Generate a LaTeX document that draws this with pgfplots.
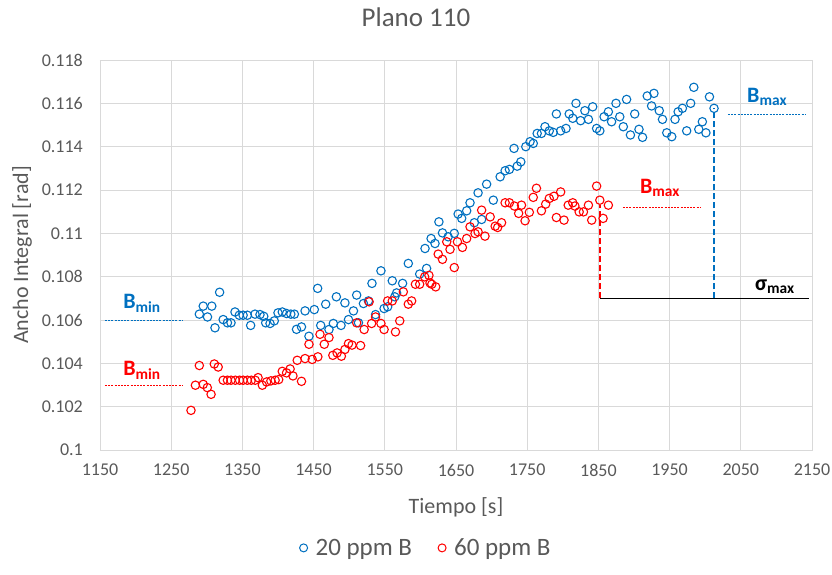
\documentclass[border=0pt]{standalone}
\usepackage{pgfplots}
\pgfplotsset{compat=1.18}
\usetikzlibrary{calc}
\usepackage{fontspec}
\setmainfont{Carlito}
\definecolor{xblue}{HTML}{0070C0}
\definecolor{xred}{HTML}{FF0000}
\definecolor{txt}{HTML}{595959}
\definecolor{grd}{HTML}{D9D9D9}
\begin{document}
\begin{tikzpicture}
\begin{axis}[
  scale only axis, width=712pt, height=390pt,
  xmin=1150, xmax=2150, ymin=0.1, ymax=0.118,
  xtick={1150,1250,...,2150},
  ytick={0.1,0.102,...,0.1181},
  grid=major, major grid style={grd, line width=0.8pt},
  axis line style={grd, line width=0.8pt},
  major tick length=0pt,
  /pgf/number format/assume math mode=true,
  x tick label style={/pgf/number format/set thousands separator={}, font=\fontsize{18}{20}\selectfont, text=txt, anchor=center, yshift=-20pt},
  y tick label style={/pgf/number format/fixed, /pgf/number format/precision=3, font=\fontsize{18}{20}\selectfont, text=txt, anchor=east, inner sep=0pt, xshift=-17pt},
  title={Plano 110}, title style={at={(axis description cs:0.4438,1.095)}, anchor=center, font=\fontsize{27}{29}\selectfont, text=txt},
  xlabel={Tiempo [s]}, xlabel style={at={(axis description cs:0.5,-0.146)}, anchor=center, font=\fontsize{22}{24}\selectfont, text=txt},
  ylabel={Ancho Integral [rad]}, ylabel style={at={(axis description cs:-0.1096,0.5)}, anchor=center, rotate=0, font=\fontsize{22}{24}\selectfont, text=txt},
  legend style={at={(axis description cs:0.458,-0.251)}, anchor=center, draw=none, legend columns=2, font=\fontsize{25}{27}\selectfont, text=txt, /tikz/every even column/.append style={column sep=24pt}},
  legend cell align=left,
]
\addplot[only marks, mark=o, mark size=4.2pt, xblue, mark options={line width=1.1pt}, legend image post style={mark size=4pt, mark options={line width=1pt}}] coordinates {
(1289.5,0.10627)(1295,0.10664)(1301,0.10614)(1307,0.10664)(1311.5,0.10564)(1318,0.10728)
(1323,0.10602)(1329,0.10587)(1334,0.10587)(1339.6,0.10637)(1345.6,0.10622)(1351,0.10622)
(1357,0.10622)(1361.6,0.10575)(1367.7,0.10627)(1374.7,0.10625)(1380,0.10617)(1382.7,0.10587)
(1388.8,0.10584)(1394.8,0.10596)(1400,0.10633)(1406,0.10637)(1412,0.1063)(1418,0.10627)
(1423,0.10627)(1426,0.10557)(1433,0.10568)(1438,0.10642)(1443.5,0.10525)(1451,0.10648)
(1455.7,0.10746)(1460,0.10575)(1467,0.10673)(1471.6,0.10556)(1477.7,0.10584)(1482,0.10707)
(1488.5,0.10575)(1494,0.10679)(1499,0.10602)(1506,0.10642)(1510.5,0.10715)(1513,0.10587)
(1520,0.10676)(1527,0.10688)(1532,0.10769)(1537,0.10625)(1544.6,0.10827)(1549,0.10653)
(1554,0.10661)(1560.5,0.10781)(1564,0.10707)(1566.6,0.10725)(1575,0.10769)(1583,0.10861)
(1599,0.10812)(1606.5,0.1093)(1608.7,0.10838)(1615,0.10976)(1620.5,0.10953)(1626,0.11053)
(1631,0.11002)(1639,0.10984)(1647.6,0.1100)(1653,0.11089)(1658,0.11069)(1665,0.11104)
(1669.7,0.11141)(1675.7,0.11049)(1681,0.11187)(1686,0.11064)(1693,0.11227)(1702.4,0.11153)
(1712,0.11261)(1719,0.11289)(1725,0.11295)(1731.5,0.11392)(1736,0.11310)(1741,0.1133)
(1748,0.1140)(1754,0.11423)(1758.5,0.11415)(1764,0.11461)(1770,0.11461)(1775,0.11492)
(1781,0.11473)(1786.5,0.11466)(1791,0.11551)(1797,0.11473)(1804.5,0.11484)(1809,0.11551)
(1814,0.11531)(1818.5,0.116)(1825,0.1152)(1831,0.11566)(1836,0.11526)(1842,0.11584)
(1847.5,0.11484)(1852,0.11473)(1858,0.11538)(1864,0.11561)(1868.5,0.11515)(1874.7,0.116)
(1880,0.11538)(1885,0.11492)(1889.6,0.11618)(1895,0.11454)(1901,0.11551)(1907,0.1148)
(1912,0.11443)(1918.6,0.11634)(1924.7,0.11588)(1928,0.11646)(1935.5,0.11566)(1940,0.11526)
(1946,0.11464)(1953,0.11446)(1957.6,0.11526)(1962,0.11561)(1968,0.11577)(1974,0.11473)
(1979.6,0.116)(1984,0.11674)(1991,0.1148)(1996,0.11515)(2001,0.11464)(2006,0.1163)
(2012.4,0.11577)
};
\addlegendentry{\hspace{6pt}20 ppm B}
\addplot[only marks, mark=o, mark size=4.2pt, xred, mark options={line width=1.1pt}, legend image post style={mark size=4pt, mark options={line width=1pt}}] coordinates {
(1277.8,0.10183)(1284,0.10299)(1289.5,0.10390)(1295,0.10303)(1300.7,0.10288)(1306,0.10257)
(1310.5,0.10397)(1316,0.10383)(1323,0.10322)(1329,0.10322)(1334,0.10322)(1340,0.10322)
(1346,0.10322)(1351,0.10322)(1357,0.10322)(1362.5,0.10322)(1368,0.10322)(1372,0.10334)
(1378,0.10299)(1384,0.10314)(1390,0.10319)(1396,0.10322)(1401,0.10325)(1406,0.10363)
(1412,0.10356)(1417,0.10374)(1421,0.10342)(1427,0.10414)(1433,0.10317)(1438,0.10422)
(1443.5,0.10488)(1448,0.10418)(1456,0.1043)(1459,0.10534)(1465,0.10488)(1471.6,0.10519)
(1477,0.10437)(1483,0.10448)(1489,0.10433)(1494,0.10464)(1499,0.10491)(1504,0.10484)
(1510.5,0.10587)(1516,0.10482)(1521,0.10556)(1528,0.10684)(1531.5,0.10584)(1537,0.10614)
(1544.6,0.10584)(1549,0.10556)(1554,0.10688)(1560.5,0.10688)(1565,0.10545)(1571,0.10596)
(1576,0.1073)(1583,0.10673)(1587.7,0.10688)(1593,0.10765)(1599,0.10765)(1606,0.10799)
(1612,0.10806)(1613.5,0.10771)(1616,0.10765)(1621.5,0.10753)(1625,0.10904)(1631,0.1088)
(1637,0.10961)(1641.6,0.10926)(1647.6,0.10842)(1652,0.10961)(1659,0.10935)(1665,0.10976)
(1669.7,0.1103)(1676.7,0.10999)(1681,0.11007)(1686,0.11107)(1690.7,0.10987)(1698,0.11076)
(1705,0.11033)(1708.5,0.11027)(1714,0.11049)(1719,0.11141)(1725,0.11141)(1732,0.11126)
(1738,0.11092)(1742,0.1113)(1747,0.11058)(1753,0.11097)(1758.5,0.11166)(1763,0.11208)
(1770,0.11104)(1776,0.11135)(1781,0.11161)(1787.6,0.11171)(1791,0.11073)(1797,0.11191)
(1801.7,0.11061)(1807.6,0.1113)(1814,0.11141)(1817,0.11126)(1823,0.11099)(1829,0.11099)
(1836,0.1113)(1840.6,0.11061)(1847.5,0.11218)(1852,0.11153)(1856.6,0.11069)(1864,0.1113)
};
\addlegendentry{\hspace{6pt}60 ppm B}
% annotation lines
\addplot[xblue, line width=0.8pt, dash pattern=on 2pt off 1.2pt, forget plot] coordinates {(1157,0.106)(1265,0.106)};
\addplot[xred, line width=0.8pt, dash pattern=on 2pt off 1.2pt, forget plot] coordinates {(1157,0.103)(1265,0.103)};
\addplot[xblue, line width=0.8pt, dash pattern=on 2pt off 1.2pt, forget plot] coordinates {(2032,0.1155)(2141,0.1155)};
\addplot[xred, line width=0.8pt, dash pattern=on 2pt off 1.2pt, forget plot] coordinates {(1884.5,0.1112)(1993,0.1112)};
\addplot[black, line width=1.2pt, forget plot] coordinates {(1852,0.107)(2146,0.107)};
\addplot[xblue, line width=2.4pt, dash pattern=on 6pt off 3pt, forget plot] coordinates {(2012.4,0.107)(2012.4,0.11577)};
\addplot[xred, line width=2.4pt, dash pattern=on 6pt off 3pt, forget plot] coordinates {(1852,0.107)(1852,0.1113)};
\node[xblue, font=\fontsize{22}{24}\selectfont\bfseries] at (axis cs:1209,0.10678) {B\textsubscript{min}};
\node[xred, font=\fontsize{22}{24}\selectfont\bfseries] at (axis cs:1209,0.10368) {B\textsubscript{min}};
\node[xblue, font=\fontsize{22}{24}\selectfont\bfseries] at (axis cs:2087,0.11629) {B\textsubscript{max}};
\node[xred, font=\fontsize{22}{24}\selectfont\bfseries] at (axis cs:1936.5,0.11209) {B\textsubscript{max}};
\node[black, font=\fontsize{22}{24}\selectfont\bfseries] at (axis cs:2098,0.10752) {σ\textsubscript{max}};
\coordinate (sw) at (rel axis cs:0,0);
\end{axis}
\pgfresetboundingbox
\path[use as bounding box] ($(sw)+(-100pt,-125pt)$) rectangle ++(832pt,575pt);
\end{tikzpicture}
\end{document}
